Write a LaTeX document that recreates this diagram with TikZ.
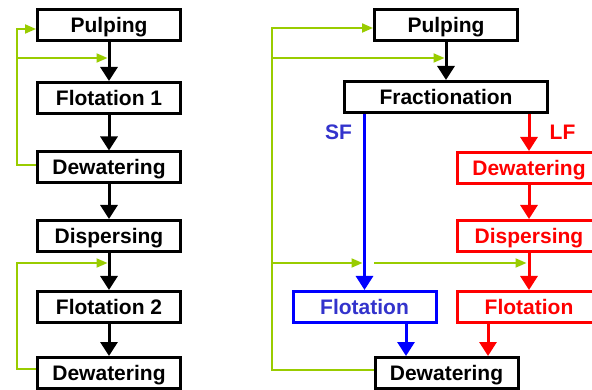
\documentclass[tikz,border=0pt]{standalone}
\usepackage{fontspec}
\setmainfont{Liberation Sans}
\usetikzlibrary{arrows.meta}
\definecolor{loopgreen}{RGB}{153,204,0}
\definecolor{sfblue}{RGB}{0,0,255}
\definecolor{sftext}{RGB}{51,51,204}
\definecolor{lfred}{RGB}{255,0,0}

\begin{document}
\begin{tikzpicture}[x=1pt,y=-1pt,
  stage/.style={draw=black, line width=3pt, fill=white,
    minimum width=143pt, minimum height=31pt, inner sep=0pt,
    text height=15pt, text depth=0pt,
    font=\fontsize{21}{25}\selectfont\bfseries},
  sfstage/.style={stage, draw=sfblue, text=sftext},
  lfstage/.style={stage, draw=lfred, text=lfred},
  flow/.style={line width=3pt, -{Triangle[length=14pt,width=17pt]}},
  recycle/.style={draw=loopgreen, line width=2pt, -{Triangle[length=11pt,width=9pt]}},
  fraclabel/.style={font=\fontsize{21}{25}\selectfont\bfseries, inner sep=0pt}]

\useasboundingbox (0,0) rectangle (592,390);
\clip (0,0) rectangle (592,390);

% ---------- conventional line ----------
\node[stage] (lpulp)  at (109,25.5) {Pulping};
\node[stage] (lflot1) at (109,98)   {Flotation 1};
\node[stage] (ldew1)  at (109,167.5) {Dewatering};
\node[stage] (ldisp)  at (109,236)  {Dispersing};
\node[stage] (lflot2) at (109,307)  {Flotation 2};
\node[stage] (ldew2)  at (109,373)  {Dewatering};

\draw[flow] (lpulp)  -- (lflot1);
\draw[flow] (lflot1) -- (ldew1);
\draw[flow] (ldew1)  -- (ldisp);
\draw[flow] (ldisp)  -- (lflot2);
\draw[flow] (lflot2) -- (ldew2);

% white-water recirculation
\coordinate (lrail) at (17,0);
\coordinate (lj1) at (107.5,58);
\coordinate (lj2) at (107.5,263);
\draw[recycle] ([yshift=2.5pt]ldew1.west) -- (lrail |- 0,165) |- ([yshift=-3.5pt]lpulp.west);
\draw[recycle] (lj1 -| lrail) -- (lj1);
\draw[recycle] ([yshift=4pt]ldew2.west) -- (lrail |- 0,369) |- (lj2);

% ---------- fractionation line ----------
\node[stage] (rpulp) at (446,25.5) {Pulping};
\node[stage, minimum width=203pt] (rfrac) at (446,97) {Fractionation};
\node[lfstage] (rlfdew)  at (529,168) {Dewatering};
\node[lfstage] (rlfdisp) at (529,236) {Dispersing};
\node[lfstage] (rlfflot) at (529,307) {Flotation};
\node[sfstage] (rsfflot) at (364.5,307) {Flotation};
\node[stage] (rdew) at (446.5,373) {Dewatering};

\node[fraclabel, text=sftext] (sflabel) at (338.5,132) {SF};
\node[fraclabel, text=lfred]  (lflabel) at (562.5,132) {LF};

\draw[flow] (rpulp) -- (rfrac);
\draw[flow, sfblue] (rfrac.south -| rsfflot) -- (rsfflot);
\draw[flow, lfred]  (rfrac.south -| rlfdew) -- (rlfdew);
\draw[flow, lfred]  (rlfdew) -- (rlfdisp);
\draw[flow, lfred]  (rlfdisp) -- (rlfflot);

\coordinate (bdrop) at (406,0);
\coordinate (rdrop) at (488,0);
\draw[flow, sfblue] (rsfflot.south -| bdrop) -- (rdew.north -| bdrop);
\draw[flow, lfred]  (rlfflot.south -| rdrop) -- (rdew.north -| rdrop);

% white-water recirculation
\coordinate (rrail) at (272,0);
\coordinate (rj1) at (444.5,58);
\coordinate (sfj) at (362.5,263);
\coordinate (lfgap) at (374,263);
\coordinate (lfj) at (526.5,263);
\draw[recycle] ([yshift=3pt]rdew.west) -- (rrail |- 0,370) |- ([yshift=-2.5pt]rpulp.west);
\draw[recycle] (rj1 -| rrail) -- (rj1);
\draw[recycle] (sfj -| rrail) -- (sfj);
\draw[recycle] (lfgap) -- (lfj);

\end{tikzpicture}
\end{document}
